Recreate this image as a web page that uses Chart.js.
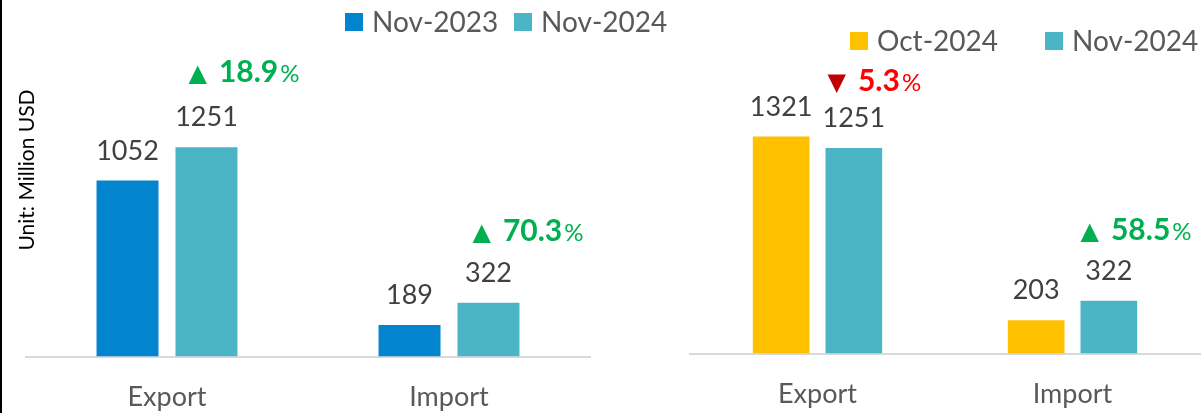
<!DOCTYPE html>
<html>
<head>
<meta charset="utf-8">
<script src="https://cdn.jsdelivr.net/npm/chart.js@4.4.1/dist/chart.umd.min.js"></script>
<style>
    html, body { margin: 0; padding: 0; background: #fff; }
    #wrap { position: relative; width: 1201px; height: 413px; overflow: hidden; }
    #edge { position: absolute; left: 0; top: 0; width: 2px; height: 413px; background: #000; }
    #left { position: absolute; left: 0; top: 0; }
    #right { position: absolute; left: 680px; top: 0; }
</style>
</head>
<body>
<div id="wrap">
    <canvas id="left" width="680" height="437"></canvas>
    <canvas id="right" width="521" height="434"></canvas>
    <div id="edge"></div>
</div>
<script>
// ---- data ----
const categories = ['Export', 'Import'];

const leftSeries = ['Nov-2023', 'Nov-2024'];
const leftPrev = [1052, 189];
const leftCurr = [1251, 322];
const leftChange = ['18.9', '70.3'];
const leftUp = [true, true];

const rightSeries = ['Oct-2024', 'Nov-2024'];
const rightPrev = [1321, 203];
const rightCurr = [1251, 322];
const rightChange = ['5.3', '58.5'];
const rightUp = [false, true];

const yTitle = 'Unit: Million USD';

// ---- colours ----
const BLUE = '#0384CE';
const TEAL = '#4BB5C5';
const GOLD = '#FFC000';
const GREEN = '#00B050';
const RED = '#FF0000';
const DARK_RED = '#C00000';
const FONT = 'Lato, "Open Sans", sans-serif';

/**
 * 막대 위 값, 증감 표시, 범례를 직접 그리는 플러그인
 */
const overlay = {
    id: 'overlay',
    afterDatasetsDraw(chart, args, opts) {
        const ctx = chart.ctx;
        ctx.save();

        // 값 라벨
        ctx.font = `27px ${FONT}`;
        ctx.fillStyle = '#404040';
        ctx.textAlign = 'center';
        ctx.textBaseline = 'alphabetic';
        chart.data.datasets.forEach((ds, i) => {
            chart.getDatasetMeta(i).data.forEach((bar, j) => {
                ctx.fillText(String(ds.data[j]), bar.x, bar.y - 21);
            });
        });

        // 증감률
        ctx.textAlign = 'left';
        const cur = chart.getDatasetMeta(1).data;
        opts.change.forEach((val, j) => {
            const bar = cur[j];
            const up = opts.up[j];
            let x = bar.x - bar.width / 2 + opts.dx[j];
            const y = bar.y - opts.rise[j];
            ctx.font = `24px "DejaVu Sans", sans-serif`;
            ctx.fillStyle = up ? GREEN : DARK_RED;
            const tri = up ? '▲' : '▼';
            ctx.fillText(tri, x, y - 1);
            x += ctx.measureText(tri).width + 12;
            ctx.font = `bold 30px ${FONT}`;
            ctx.fillStyle = up ? GREEN : RED;
            ctx.fillText(val, x, y);
            x += ctx.measureText(val).width + 2;
            ctx.font = `24px ${FONT}`;
            ctx.fillText('%', x, y);
        });

        // 범례
        ctx.font = `28px ${FONT}`;
        ctx.textBaseline = 'middle';
        chart.data.datasets.forEach((ds, i) => {
            const lx = opts.legendX[i];
            ctx.fillStyle = ds.backgroundColor;
            ctx.fillRect(lx, opts.legendY, 18, 18);
            ctx.fillStyle = '#595959';
            ctx.fillText(ds.label, lx + 27, opts.legendY + 10);
        });

        // 축 제목
        if (opts.title) {
            ctx.translate(34, 170);
            ctx.rotate(-Math.PI / 2);
            ctx.textAlign = 'center';
            ctx.textBaseline = 'alphabetic';
            ctx.font = `21px ${FONT}`;
            ctx.fillStyle = '#000';
            ctx.fillText(opts.title, 0, 0);
        }
        ctx.restore();
    }
};

function makeChart(id, labels, prev, curr, prevColor, conf) {
    return new Chart(document.getElementById(id), {
        type: 'bar',
        data: {
            labels: categories,
            datasets: [
                { label: labels[0], data: prev, backgroundColor: prevColor },
                { label: labels[1], data: curr, backgroundColor: TEAL }
            ]
        },
        options: {
            responsive: false,
            animation: false,
            devicePixelRatio: 1,
            categoryPercentage: conf.cat,
            barPercentage: conf.bar,
            layout: { padding: conf.padding },
            plugins: {
                legend: { display: false },
                tooltip: { enabled: false },
                overlay: conf.overlay
            },
            scales: {
                x: {
                    grid: { display: false, drawTicks: false },
                    border: { color: '#D9D9D9', width: 2 },
                    ticks: { color: '#595959', font: { family: FONT, size: 27 }, padding: 24 }
                },
                y: { display: false, min: 0, max: 2000 }
            }
        },
        plugins: [overlay]
    });
}

makeChart('left', leftSeries, leftPrev, leftCurr, BLUE, {
    cat: 0.56, bar: 0.785,
    padding: { left: 26, right: 90, top: 22, bottom: 0 },
    overlay: {
        change: leftChange, up: leftUp,
        dx: [13, 15], rise: [65, 62],
        legendX: [345, 514], legendY: 13,
        title: yTitle
    }
});

makeChart('right', rightSeries, rightPrev, rightCurr, GOLD, {
    cat: 0.57, bar: 0.78,
    padding: { left: 10, right: 1, top: 25, bottom: 0 },
    overlay: {
        change: rightChange, up: rightUp,
        dx: [2, 0], rise: [57, 61],
        legendX: [170, 365], legendY: 32,
        title: null
    }
});
</script>
</body>
</html>
